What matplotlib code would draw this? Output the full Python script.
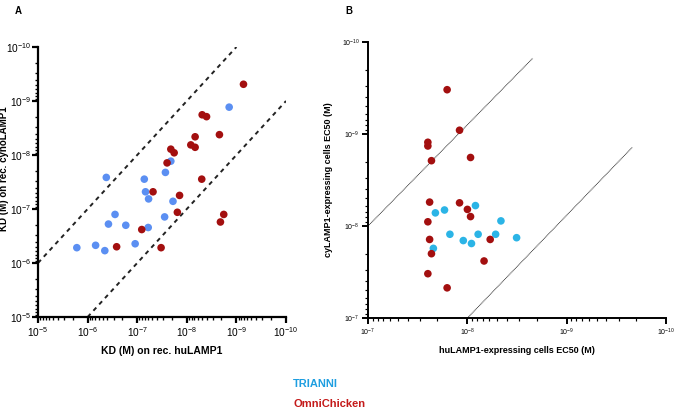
import matplotlib
matplotlib.use("Agg")
import matplotlib.pyplot as plt
import matplotlib.ticker as mticker
import numpy as np

plt.rcParams['font.family'] = ['Liberation Sans', 'DejaVu Sans']
plt.rcParams['mathtext.fontset'] = 'custom'
plt.rcParams['mathtext.rm'] = 'Liberation Sans'
plt.rcParams['mathtext.bf'] = 'Liberation Sans:bold'

# Panel A: KD on recombinant proteins (M)
a_trianni_hu = [1.4e-9, 2.1e-8, 2.7e-8, 4.2e-7, 7.2e-8, 6.8e-8, 5.9e-8, 1.9e-8, 2.8e-7,
                2.8e-8, 3.8e-7, 1.7e-7, 6.0e-8, 1.65e-6, 6.9e-7, 4.5e-7, 1.1e-7]
a_trianni_cy = [1.3e-9, 1.3e-8, 2.1e-8, 2.6e-8, 2.8e-8, 4.8e-8, 6.5e-8, 7.2e-8, 1.26e-7,
                1.4e-7, 1.9e-7, 2.0e-7, 2.2e-7, 5.2e-7, 4.7e-7, 5.9e-7, 4.4e-7]
a_omni_hu = [7.2e-10, 4.9e-9, 4.0e-9, 6.8e-9, 2.2e-9, 8.3e-9, 6.8e-9, 2.1e-8, 1.8e-8, 2.5e-8,
             5.0e-9, 4.8e-8, 1.4e-8, 1.55e-8, 1.8e-9, 2.1e-9, 8.1e-8, 2.6e-7, 3.3e-8]
a_omni_cy = [4.9e-10, 1.8e-9, 1.95e-9, 4.6e-9, 4.2e-9, 6.5e-9, 7.2e-9, 7.8e-9, 9.1e-9, 1.4e-8,
             2.8e-8, 4.8e-8, 5.6e-8, 1.15e-7, 1.26e-7, 1.74e-7, 2.4e-7, 5.0e-7, 5.2e-7]

# Panel B: EC50 on LAMP1-expressing cells (M)
b_trianni_hu = [8.3e-9, 1.7e-8, 2.1e-8, 4.6e-9, 1.5e-8, 7.8e-9, 5.2e-9, 1.1e-8, 9.1e-9,
                3.2e-9, 2.2e-8]
b_trianni_cy = [6.0e-9, 6.7e-9, 7.2e-9, 8.8e-9, 1.23e-8, 1.23e-8, 1.23e-8, 1.44e-8, 1.55e-8,
                1.34e-8, 1.75e-8]
b_omni_hu = [1.6e-8, 1.2e-8, 2.5e-8, 2.5e-8, 2.3e-8, 9.3e-9, 2.4e-8, 1.2e-8, 1.0e-8, 9.3e-9,
             2.5e-8, 2.4e-8, 5.9e-9, 2.3e-8, 6.8e-9, 2.5e-8, 1.6e-8]
b_omni_cy = [3.3e-10, 9.1e-10, 1.23e-9, 1.35e-9, 1.95e-9, 1.8e-9, 5.5e-9, 5.6e-9, 6.6e-9,
             7.9e-9, 9.0e-9, 1.4e-8, 1.4e-8, 2.0e-8, 2.4e-8, 3.3e-8, 4.7e-8]

# ten-fold reference lines
a_upper_x, a_upper_y = [1e-5, 1e-9], [1e-6, 1e-10]
a_lower_x, a_lower_y = [1e-6, 1e-10], [1e-5, 1e-9]
b_upper_x, b_upper_y = [1e-7, 2.2e-9], [1e-8, 1.5e-10]
b_lower_x, b_lower_y = [1e-8, 2.2e-10], [1e-7, 1.4e-9]

red = '#a30f0f'
blue_a = '#5b8ff2'
blue_b = '#2bb4e6'


def sci(v, pos):
    return r'$\mathregular{10^{%d}}$' % int(round(np.log10(v)))


def style(ax, lw, fs):
    ax.set_xscale('log')
    ax.set_yscale('log')
    for s in ['top', 'right']:
        ax.spines[s].set_visible(False)
    for s in ['left', 'bottom']:
        ax.spines[s].set_linewidth(lw)
    ax.xaxis.set_major_locator(mticker.LogLocator(base=10))
    ax.yaxis.set_major_locator(mticker.LogLocator(base=10))
    ax.xaxis.set_minor_locator(mticker.LogLocator(base=10, subs=np.arange(2, 10), numticks=20))
    ax.yaxis.set_minor_locator(mticker.LogLocator(base=10, subs=np.arange(2, 10), numticks=20))
    ax.xaxis.set_major_formatter(mticker.FuncFormatter(sci))
    ax.yaxis.set_major_formatter(mticker.FuncFormatter(sci))
    ax.xaxis.set_minor_formatter(mticker.NullFormatter())
    ax.yaxis.set_minor_formatter(mticker.NullFormatter())
    ax.tick_params(which='major', length=4, width=lw, labelsize=fs, pad=2)
    ax.tick_params(which='minor', length=2, width=lw * 0.6)


fig = plt.figure(figsize=(6.8, 4.09), dpi=100)

# Panel A
ax1 = fig.add_axes([0.0559, 0.2249, 0.3647, 0.6602])
style(ax1, 1.6, 7.3)
ax1.tick_params(axis='y', which='major', pad=1)
ax1.set_xlim(1e-5, 1e-10)
ax1.set_ylim(1e-5, 1e-10)
ax1.plot(a_upper_x, a_upper_y, color='#222222', lw=1.4, ls=(0, (2.2, 2.2)))
ax1.plot(a_lower_x, a_lower_y, color='#222222', lw=1.4, ls=(0, (2.2, 2.2)))
ax1.scatter(a_trianni_hu, a_trianni_cy, s=30, color=blue_a, edgecolors='none', zorder=3)
ax1.scatter(a_omni_hu, a_omni_cy, s=30, color=red, edgecolors='none', zorder=3)
ax1.set_xlabel('KD (M) on rec. huLAMP1', fontsize=7.5, fontweight='bold', labelpad=5)
ax1.set_ylabel('KD (M) on rec. cynoLAMP1', fontsize=7, fontweight='bold')
ax1.yaxis.set_label_coords(-0.118, 0.55)

# Panel B
ax2 = fig.add_axes([0.5412, 0.2225, 0.4385, 0.6748])
style(ax2, 1.4, 5)
ax2.set_xlim(1e-7, 1e-10)
ax2.set_ylim(1e-7, 1e-10)
ax2.plot(b_upper_x, b_upper_y, color='#333333', lw=0.7, ls=(0, (1, 0.6)))
ax2.plot(b_lower_x, b_lower_y, color='#333333', lw=0.7, ls=(0, (1, 0.6)))
ax2.scatter(b_trianni_hu, b_trianni_cy, s=30, color=blue_b, edgecolors='none', zorder=3)
ax2.scatter(b_omni_hu, b_omni_cy, s=30, color=red, edgecolors='none', zorder=3)
ax2.set_xlabel('huLAMP1-expressing cells EC50 (M)', fontsize=6.5, fontweight='bold', labelpad=6)
ax2.set_ylabel('cyLAMP1-expressing cells EC50 (M)', fontsize=6.5, fontweight='bold', labelpad=6)

fig.text(0.022, 0.972, 'A', fontsize=7, fontweight='bold', va='center')
fig.text(0.508, 0.972, 'B', fontsize=7, fontweight='bold', va='center')

fig.text(0.431, 0.062, 'TRIANNI', color='#1e9ee0', fontsize=8, fontweight='bold', va='center')
fig.text(0.431, 0.013, 'OmniChicken', color='#c41a1a', fontsize=8, fontweight='bold', va='center')

fig.savefig('out.png', dpi=100)
